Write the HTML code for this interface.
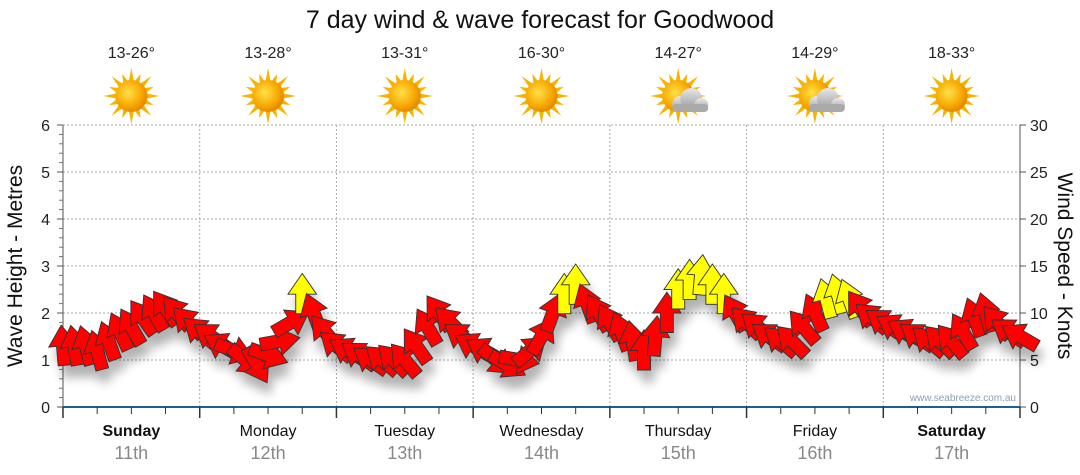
<!DOCTYPE html>
<html><head><meta charset="utf-8"><style>
body{margin:0;background:#fff;}
svg{display:block;font-family:"Liberation Sans","DejaVu Sans",sans-serif;}
</style></head><body>
<svg id="chart" width="1080" height="475" viewBox="0 0 1080 475">
<defs>
<filter id="sh" x="-50%" y="-50%" width="200%" height="200%"><feGaussianBlur stdDeviation="5"/></filter>
<radialGradient id="sun" cx="0.4" cy="0.4" r="0.6"><stop offset="0" stop-color="#ffe14a"/><stop offset="0.7" stop-color="#f7a800"/><stop offset="1" stop-color="#e58a00"/></radialGradient>
<linearGradient id="cl" x1="0" y1="0" x2="0" y2="1"><stop offset="0" stop-color="#e8e8e8"/><stop offset="1" stop-color="#999"/></linearGradient>
</defs>
<text x="540" y="28" text-anchor="middle" font-size="25" fill="#111">7 day wind &amp; wave forecast for Goodwood</text>
<g id="grid"></g><g id="axes"></g><g id="icons"></g><g id="shadows" filter="url(#sh)" opacity="0.3"></g><g id="arrows"></g>
<text transform="translate(22,266) rotate(-90)" text-anchor="middle" font-size="21" fill="#111">Wave Height - Metres</text>
<text transform="translate(1058,266) rotate(90)" text-anchor="middle" font-size="21" fill="#111">Wind Speed - Knots</text>
<text x="1016" y="401" text-anchor="end" font-size="10" fill="#8aa0b8">www.seabreeze.com.au</text>
</svg>
<script>
const days=["Sunday","Monday","Tuesday","Wednesday","Thursday","Friday","Saturday"];
const dates=["11th","12th","13th","14th","15th","16th","17th"];
const temps=["13-26°","13-28°","13-31°","16-30°","14-27°","14-29°","18-33°"];
const cloudy=[false,false,false,false,true,true,false];
const leftTicks=[0,1,2,3,4,5,6];
const rightTicks=[0,5,10,15,20,25,30];
const speeds=[6.5,6.5,6.5,6,7,8,8.5,9.5,10,10.5,10,9,8,7.5,6.5,6,5,4.5,5.5,7,9,12,10,8,6.5,6,5.5,5,5,5,5,6.5,8.5,10,9,7.5,6.5,6,5,4.5,5,6,7.5,10,12,13,11,10,9,8,7,6,7.5,10,12.5,13.5,14,13,12,10,9,8.5,7.5,7,7,8.5,10,11.5,12,11.5,10.5,9.5,9,8.5,8,7.5,7,7,7,8,9.5,10,9,8,7.5];
const dirs=[-5,-10,-15,-15,-20,-25,-30,-35,-30,-35,-40,-45,-50,-55,-60,110,130,150,110,80,60,0,-20,-40,-50,-60,-55,-55,-50,-45,-40,-35,-30,-35,-45,-55,-60,-60,130,120,100,50,30,20,0,0,-20,-30,-30,-20,-10,0,5,0,0,0,5,0,0,-30,-45,-50,-55,-50,-45,-40,-25,-15,-15,-20,-35,-50,-55,-60,-60,-55,-50,-45,-40,-30,-20,-15,-40,-55,-60];
const X0=63,X1=1020,Y0=407,Y1=125;
const xH=h=>X0+(X1-X0)*h/168;
const yM=m=>Y0-(Y0-Y1)*m/6;
const yK=k=>Y0-(Y0-Y1)*k/30;
const NS="http://www.w3.org/2000/svg";
function mk(t,a,p){const e=document.createElementNS(NS,t);for(const k in a)e.setAttribute(k,a[k]);p.appendChild(e);return e;}
const grid=document.getElementById('grid'),axes=document.getElementById('axes'),icons=document.getElementById('icons');
leftTicks.forEach(v=>{if(v>0){const l=mk('line',{x1:X0,x2:X1,y1:yM(v),y2:yM(v),stroke:'#aaa','stroke-dasharray':'2,2'},grid);

}
const t=mk('text',{x:50,y:yM(v)+6,'text-anchor':'end','font-size':16,fill:'#222'},axes);t.textContent=v;


mk('line',{x1:X0-6,x2:X0,y1:yM(v),y2:yM(v),stroke:'#555'},axes);
if(v<6)for(let i=1;i<5;i++)mk('line',{x1:X0-4,x2:X0,y1:yM(v+i/5),y2:yM(v+i/5),stroke:'#777'},axes);});
rightTicks.forEach(v=>{const t=mk('text',{x:1030,y:yK(v)+6,'font-size':16,fill:'#222'},axes);t.textContent=v;


mk('line',{x1:X1,x2:X1+6,y1:yK(v),y2:yK(v),stroke:'#555'},axes);});
mk('line',{x1:X0,x2:X0,y1:Y1,y2:Y0,stroke:'#555'},axes);
mk('line',{x1:X1,x2:X1,y1:Y1,y2:Y0,stroke:'#555'},axes);
mk('line',{x1:X0,x2:X1,y1:Y0,y2:Y0,stroke:'#1f5f8f','stroke-width':2},axes);
for(let h=0;h<=168;h+=6){const big=h%24==0;mk('line',{x1:xH(h),x2:xH(h),y1:Y0,y2:Y0+(big?11:7),stroke:'#333','stroke-width':big?1.5:1},axes);
if(big&&h>0&&h<168)mk('line',{x1:xH(h),x2:xH(h),y1:Y1,y2:Y0,stroke:'#aaa','stroke-dasharray':'2,2'},grid);}
days.forEach((d,i)=>{const cx=xH(i*24+12);
const t=mk('text',{x:cx,y:436,'text-anchor':'middle','font-size':16,fill:'#111','font-weight':(i==0||i==6)?'bold':'normal'},axes);t.textContent=d;


const t2=mk('text',{x:cx,y:459,'text-anchor':'middle','font-size':18,fill:'#888'},axes);t2.textContent=dates[i];


const t3=mk('text',{x:cx,y:58,'text-anchor':'middle','font-size':16,fill:'#222'},icons);t3.textContent=temps[i];


const g=mk('g',{transform:`translate(${cx},96)`},icons);


for(let a=0;a<360;a+=22.5){const L=(a/22.5)%2?24:28;mk('polygon',{points:`-2.5,-15 2.5,-15 0,${-L}`,fill:'#f5b400',transform:`rotate(${a})`},g);}
mk('circle',{r:16,fill:'url(#sun)'},g);
if(cloudy[i]){const c=mk('g',{transform:'translate(10,6)'},g);
mk('circle',{cx:-8,cy:2,r:8,fill:'url(#cl)'},c);mk('circle',{cx:3,cy:-3,r:11,fill:'url(#cl)'},c);mk('circle',{cx:13,cy:3,r:7,fill:'url(#cl)'},c);mk('rect',{x:-16,y:2,width:36,height:8,rx:4,fill:'#aaa'},c);}
});
const sh=document.getElementById('shadows'),ar=document.getElementById('arrows');
const AP="M-5,15 L5,15 L5,0 L11,0 L0,-16 L-11,0 L-5,0 Z";
speeds.forEach((s,i)=>{const x=xH(i*2),y=yK(s);
mk('path',{d:AP,fill:'#000',transform:`translate(${x+4},${y+12}) rotate(${dirs[i]}) scale(1.3)`},sh);
const p=mk('path',{d:AP,fill:s>=11.5?'#ffff00':'#ff0000',stroke:'#333','stroke-width':0.7,transform:`translate(${x},${y}) rotate(${dirs[i]}) scale(1.3)`},ar);

});
</script>
</body></html>
